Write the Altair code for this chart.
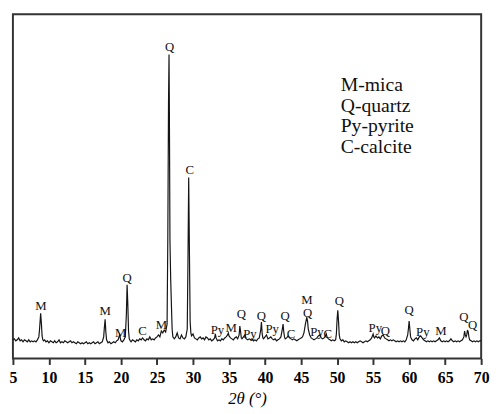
import altair as alt
import pandas as pd

# ---- XRD pattern (2θ in degrees, intensity in arbitrary units) ----
two_theta = [
    5.0, 5.2, 5.4, 5.6, 5.8, 6.0, 6.2, 6.4, 6.6, 6.8, 7.0, 7.2, 7.4, 7.6, 7.8, 8.0, 8.2, 8.4, 8.6, 8.7,
    8.85, 8.95, 9.05, 9.15, 9.25, 9.4, 9.6, 9.8, 10.0, 10.2, 10.4, 10.6, 10.8, 11.0, 11.2, 11.4, 11.6, 11.8, 12.0, 12.2,
    12.4, 12.6, 12.8, 13.0, 13.2, 13.4, 13.6, 13.8, 14.0, 14.2, 14.4, 14.6, 14.8, 15.0, 15.2, 15.4, 15.6, 15.8, 16.0, 16.2,
    16.4, 16.6, 16.8, 17.0, 17.2, 17.4, 17.6, 17.7, 17.8, 17.9, 18.0, 18.2, 18.4, 18.6, 18.8, 19.0, 19.2, 19.4, 19.6, 19.8,
    19.9, 20.0, 20.2, 20.4, 20.6, 20.75, 20.85, 20.95, 21.05, 21.15, 21.3, 21.4, 21.6, 21.8, 22.0, 22.2, 22.4, 22.6, 22.8, 23.0,
    23.2, 23.4, 23.6, 23.8, 24.0, 24.2, 24.4, 24.6, 24.8, 25.0, 25.2, 25.4, 25.6, 25.8, 26.0, 26.2, 26.4, 26.5, 26.6, 26.67,
    26.72, 26.8, 26.9, 27.0, 27.1, 27.2, 27.4, 27.6, 27.8, 28.0, 28.2, 28.4, 28.6, 28.8, 29.0, 29.2, 29.3, 29.4, 29.5, 29.6,
    29.7, 29.8, 30.0, 30.2, 30.4, 30.6, 30.8, 31.0, 31.2, 31.4, 31.6, 31.8, 32.0, 32.2, 32.4, 32.6, 32.8, 33.0, 33.1, 33.2,
    33.4, 33.6, 33.8, 34.0, 34.2, 34.4, 34.6, 34.8, 34.9, 35.0, 35.2, 35.4, 35.6, 35.8, 36.0, 36.2, 36.4, 36.5, 36.6, 36.7,
    36.8, 37.0, 37.2, 37.3, 37.4, 37.6, 37.8, 38.0, 38.2, 38.4, 38.6, 38.8, 39.0, 39.2, 39.4, 39.5, 39.6, 39.7, 39.8, 40.0,
    40.2, 40.3, 40.4, 40.6, 40.8, 41.0, 41.2, 41.4, 41.6, 41.8, 42.0, 42.2, 42.4, 42.5, 42.6, 42.7, 42.8, 43.0, 43.2, 43.4,
    43.6, 43.8, 44.0, 44.2, 44.4, 44.6, 44.8, 45.0, 45.2, 45.4, 45.6, 45.8, 45.9, 46.0, 46.2, 46.4, 46.6, 46.8, 47.0, 47.2,
    47.4, 47.6, 47.8, 48.0, 48.2, 48.4, 48.5, 48.6, 48.8, 49.0, 49.2, 49.4, 49.6, 49.8, 49.9, 50.0, 50.1, 50.2, 50.3, 50.4,
    50.6, 50.8, 51.0, 51.2, 51.4, 51.6, 51.8, 52.0, 52.2, 52.4, 52.6, 52.8, 53.0, 53.2, 53.4, 53.6, 53.8, 54.0, 54.2, 54.4,
    54.6, 54.8, 55.0, 55.1, 55.2, 55.4, 55.6, 55.8, 56.0, 56.2, 56.4, 56.6, 56.8, 57.0, 57.2, 57.4, 57.6, 57.8, 58.0, 58.2,
    58.4, 58.6, 58.8, 59.0, 59.2, 59.4, 59.6, 59.8, 59.9, 60.0, 60.1, 60.2, 60.4, 60.6, 60.8, 61.0, 61.2, 61.4, 61.6, 61.8,
    62.0, 62.2, 62.4, 62.6, 62.8, 63.0, 63.2, 63.4, 63.6, 63.8, 64.0, 64.2, 64.4, 64.6, 64.8, 65.0, 65.2, 65.4, 65.6, 65.8,
    66.0, 66.2, 66.4, 66.6, 66.8, 67.0, 67.2, 67.4, 67.6, 67.7, 67.8, 67.9, 68.0, 68.1, 68.2, 68.3, 68.4, 68.6, 68.8, 69.0,
    69.2, 69.4, 69.6, 69.8, 70.0,
]
intensity = [
    19, 20, 18, 19, 21, 18, 19, 17, 19, 18, 17, 19, 17, 18, 17, 18, 17, 19, 22, 30,
    46, 36, 23, 19, 18, 19, 17, 18, 16, 18, 17, 16, 18, 16, 17, 19, 16, 17, 16, 18,
    17, 16, 17, 18, 16, 17, 16, 15, 17, 16, 15, 16, 15, 16, 17, 15, 16, 15, 16, 17,
    15, 16, 17, 15, 16, 17, 22, 32, 40, 27, 19, 16, 17, 15, 16, 17, 16, 18, 19, 24,
    21, 18, 17, 19, 22, 45, 75, 55, 28, 20, 18, 17, 19, 18, 17, 19, 18, 20, 19, 21,
    19, 18, 20, 19, 22, 19, 20, 19, 21, 22, 24, 22, 28, 26, 29, 27, 35, 120, 260, 309,
    250, 120, 81, 55, 30, 22, 20, 22, 26, 21, 20, 24, 21, 20, 22, 30, 100, 184, 110, 38,
    26, 23, 25, 21, 20, 19, 21, 22, 20, 21, 19, 22, 21, 19, 20, 18, 19, 21, 25, 21,
    18, 19, 18, 20, 19, 21, 22, 24, 26, 23, 21, 20, 19, 21, 22, 20, 24, 33, 28, 21,
    20, 22, 24, 21, 20, 19, 20, 19, 20, 18, 19, 18, 20, 21, 29, 37, 25, 21, 20, 22,
    24, 22, 20, 21, 22, 20, 19, 20, 18, 19, 20, 22, 30, 35, 27, 22, 20, 21, 23, 21,
    20, 19, 20, 19, 18, 19, 20, 21, 22, 26, 35, 42, 38, 30, 24, 21, 20, 19, 20, 21,
    23, 24, 21, 20, 21, 23, 25, 22, 20, 19, 18, 19, 18, 19, 25, 40, 49, 38, 24, 20,
    18, 19, 17, 18, 17, 16, 17, 16, 17, 16, 17, 16, 17, 18, 17, 16, 17, 18, 17, 18,
    19, 21, 25, 22, 21, 23, 21, 22, 20, 23, 24, 21, 20, 19, 18, 19, 18, 19, 18, 17,
    18, 17, 18, 17, 18, 17, 19, 24, 30, 38, 30, 22, 19, 18, 20, 21, 19, 22, 23, 21,
    19, 18, 17, 18, 17, 18, 17, 18, 17, 18, 19, 21, 18, 17, 18, 17, 18, 17, 18, 20,
    18, 17, 18, 17, 18, 17, 18, 19, 22, 28, 24, 22, 24, 29, 27, 22, 19, 18, 17, 18,
    17, 18, 17, 18, 18,
]

# ---- phase labels above the peaks ----
label_theta = [8.9, 17.8, 19.95, 20.85, 23.0, 25.6, 26.75, 29.55, 33.4, 35.3, 36.7, 37.9, 39.5, 41.0,
               42.8, 43.6, 45.8, 45.9, 47.2, 48.7, 50.3, 55.3, 56.7, 60.0, 61.9, 64.4, 67.6, 68.8]
label_text = ["M", "M", "M", "Q", "C", "M", "Q", "C", "Py", "M", "Q", "Py", "Q", "Py",
              "Q", "C", "M", "Q", "Py", "C", "Q", "Py", "Q", "Q", "Py", "M", "Q", "Q"]
label_height = [53, 48, 26, 82, 28, 34, 317, 192, 29, 31, 45, 25, 43, 30,
                43, 25, 59, 46, 27, 25, 58, 31, 28, 49, 27, 28, 42, 34]

# ---- legend of phases ----
legend_text = ["M-mica", "Q-quartz", "Py-pyrite", "C-calcite"]
legend_theta = [50.5, 50.5, 50.5, 50.5]
legend_height = [278, 257, 236, 215]

# ---- x-axis tick values ----
x_ticks = [5, 10, 15, 20, 25, 30, 35, 40, 45, 50, 55, 60, 65, 70]

pattern = pd.DataFrame({"t": two_theta, "i": intensity})
labels = pd.DataFrame({"t": label_theta, "i": label_height, "s": label_text})
legend = pd.DataFrame({"t": legend_theta, "i": legend_height, "s": legend_text})

xscale = alt.Scale(domain=[5, 70], nice=False, zero=False)
yscale = alt.Scale(domain=[0, 350], nice=False)

SERIF = "Liberation Serif"


def xaxis():
    return alt.Axis(
        values=x_ticks, title="2θ (°)", labelOverlap=False, grid=False, domain=False,
        labelFont=SERIF, labelFontWeight="bold", labelFontSize=16,
        titleFont=SERIF, titleFontStyle="italic", titleFontWeight="normal", titleFontSize=17,
    )


line = alt.Chart(pattern).mark_line(color="#141414", strokeWidth=1.2, clip=True).encode(
    x=alt.X("t:Q", scale=xscale, axis=xaxis()),
    y=alt.Y("i:Q", scale=yscale, axis=None),
)

peak_labels = alt.Chart(labels).mark_text(
    font=SERIF, fontSize=13, color="#111111", align="center", baseline="middle"
).encode(
    x=alt.X("t:Q", scale=xscale, axis=xaxis()),
    y=alt.Y("i:Q", scale=yscale, axis=None),
    text="s:N",
)

legend_marks = alt.Chart(legend).mark_text(
    font=SERIF, fontSize=20, color="#111111", align="left", baseline="middle"
).encode(
    x=alt.X("t:Q", scale=xscale, axis=xaxis()),
    y=alt.Y("i:Q", scale=yscale, axis=None),
    text="s:N",
)

chart = (
    alt.layer(line, peak_labels, legend_marks)
    .properties(
        width=476, height=350,
        autosize=alt.AutoSizeParams(type="none"),
        padding={"left": 5, "top": 3, "right": 10, "bottom": 52},
        background="#ffffff",
    )
    .configure_view(stroke="#333333", strokeWidth=2)
    .configure_axisX(
        grid=False, domain=False,
        ticks=True, tickSize=6, tickWidth=2, tickColor="#333333",
        labelFont=SERIF, labelFontWeight="bold", labelFontSize=16, labelColor="#000000",
        labelPadding=5, labelFlush=False, labelOverlap=False,
        titleFont=SERIF, titleFontStyle="italic", titleFontWeight="normal", titleFontSize=17,
        titleColor="#000000", titlePadding=6,
    )
)

chart.save("out.html", embed_options={"renderer": "svg", "actions": False})
